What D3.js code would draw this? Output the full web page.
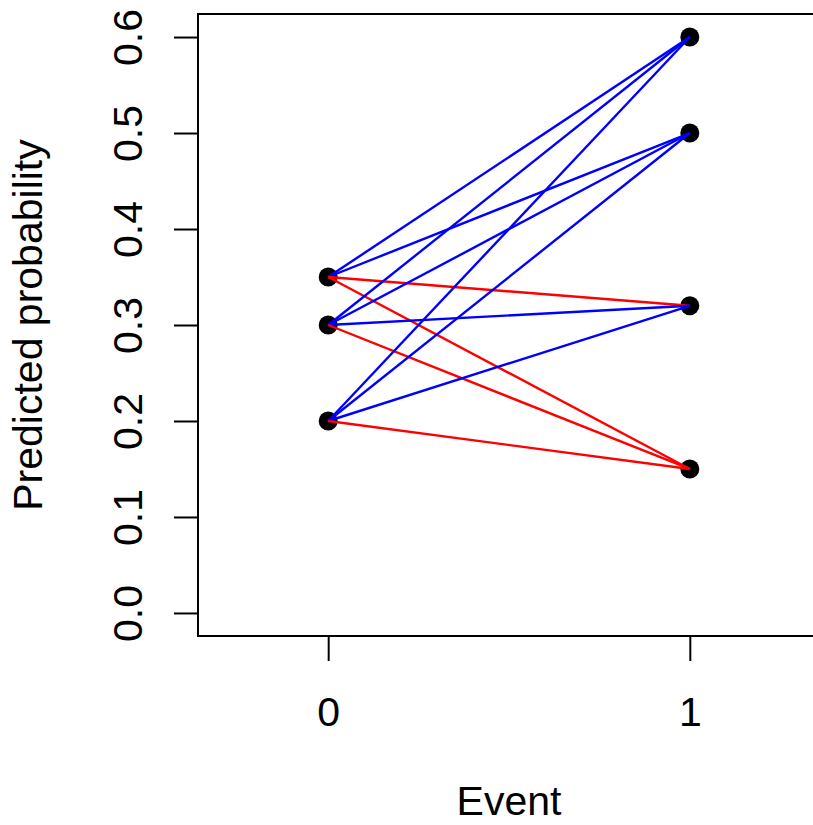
<!DOCTYPE html>
<html><head><meta charset="utf-8">
<script src="https://cdn.jsdelivr.net/npm/d3@7"></script>
<style>body{margin:0;background:#fff}svg{display:block}text{font-family:"Liberation Sans",Arial,sans-serif;fill:#000}</style>
</head><body>
<script>
const nonEventVals = [0.35, 0.3, 0.2];
const eventVals = [0.6, 0.5, 0.32, 0.15];
const yTicks = [0.0, 0.1, 0.2, 0.3, 0.4, 0.5, 0.6];
const xTicks = [0, 1];
const xLabel = "Event";
const yLabel = "Predicted probability";

(function(){
const W = 813, H = 825;
const pL = 198, pT = 14, pR = 820, pB = 636;
const fs = 41;

const svg = d3.select("body").append("svg").attr("width", W).attr("height", H);
const x = d3.scaleLinear().domain([-0.36, 1.36]).range([pL, pR]);
const y = d3.scaleLinear().domain([-0.024, 0.624]).range([pB, pT]);

// box
svg.append("rect").attr("x", pL).attr("y", pT).attr("width", pR-pL).attr("height", pB-pT)
  .attr("fill","none").attr("stroke","#000").attr("stroke-width",2);

// y axis
const ya = svg.append("g").attr("transform", `translate(${pL},0)`)
  .call(d3.axisLeft(y).tickValues(yTicks).tickSize(24).tickFormat(d3.format(".1f")));
ya.select(".domain").attr("d", `M0,${y(0)}V${y(0.6)}`).attr("stroke-width",2);
ya.selectAll(".tick line").attr("stroke-width",2);
ya.selectAll(".tick text").attr("font-size", fs).attr("font-family","Liberation Sans, Arial, sans-serif")
  .attr("x", null).attr("dy", null)
  .attr("text-anchor","middle")
  .attr("transform", "translate(-56,0) rotate(-90)");

// x axis
const xa = svg.append("g").attr("transform", `translate(0,${pB})`)
  .call(d3.axisBottom(x).tickValues(xTicks).tickSize(25).tickFormat(d3.format("d")));
xa.select(".domain").attr("d", `M${x(0)},0H${x(1)}`).attr("stroke-width",2);
xa.selectAll(".tick line").attr("stroke-width",2);
xa.selectAll(".tick text").attr("font-size", fs).attr("font-family","Liberation Sans, Arial, sans-serif")
  .attr("dy", null).attr("y", 90);

// axis titles
svg.append("text").attr("x", (pL+pR)/2).attr("y", 815).attr("text-anchor","middle")
  .attr("font-size", fs).text(xLabel);
svg.append("text").attr("transform", `translate(42,${(pT+pB)/2}) rotate(-90)`)
  .attr("text-anchor","middle").attr("font-size", fs).text(yLabel);

// points
const pts = nonEventVals.map(v => ({g:0, v})).concat(eventVals.map(v => ({g:1, v})));
svg.append("g").selectAll("circle").data(pts).join("circle")
  .attr("cx", d => x(d.g)).attr("cy", d => y(d.v)).attr("r", 9.5).attr("fill","#000");

// pair lines
const pairs = [];
nonEventVals.forEach(a => eventVals.forEach(b => pairs.push({a, b})));
svg.append("g").selectAll("line").data(pairs).join("line")
  .attr("x1", x(0)).attr("x2", x(1))
  .attr("y1", d => y(d.a)).attr("y2", d => y(d.b))
  .attr("stroke", d => d.b > d.a ? "#0000FF" : "#FF0000")
  .attr("stroke-width", 2.4);
})();
</script>
</body></html>
